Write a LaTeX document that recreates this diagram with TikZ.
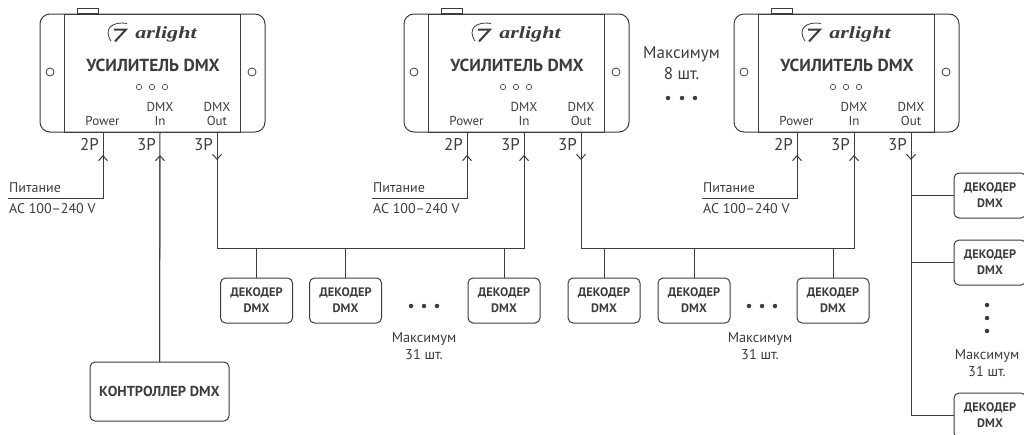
\documentclass[tikz,border=0pt]{standalone}
\usepackage{fontspec}
\setmainfont{PT Sans}
\newfontfamily\logofont[FakeStretch=1.3]{Liberation Serif}
\usetikzlibrary{arrows.meta}
\usetikzlibrary{positioning}

\definecolor{ink}{HTML}{3C3C3C}

\tikzset{
  wire/.style={draw=ink, line width=1pt},
  tipped/.style={wire, -{Straight Barb[length=5pt,width=9pt,line width=1pt]}},
  ampbody/.style={draw=ink, line width=1pt, rounded corners=10pt, minimum width=225pt, minimum height=118pt, inner sep=0pt},
  ampface/.style={draw=ink, line width=1pt, minimum width=176pt, minimum height=118pt, inner sep=0pt},
  amptab/.style={draw=ink, line width=1pt, minimum width=21pt, minimum height=4.5pt, inner sep=0pt},
  hole/.style={circle, draw=ink, line width=0.8pt, minimum size=8pt, inner sep=0pt},
  led/.style={circle, draw=ink, line width=0.6pt, minimum size=5.5pt, inner sep=0pt},
  dot/.style={circle, fill=ink, minimum size=4.5pt, inner sep=0pt},
  port/.style={text=ink, font=\fontsize{13}{14}\selectfont, align=center, inner sep=0pt},
  pins/.style={text=ink, font=\fontsize{17}{17}\selectfont, inner sep=0pt},
  supply/.style={text=ink, font=\fontsize{14}{14}\selectfont, anchor=west, inner sep=0pt},
  note/.style={text=ink, font=\fontsize{14.3}{17}\selectfont, align=center, inner sep=0pt},
  bignote/.style={text=ink, font=\fontsize{17}{21}\selectfont, align=center, inner sep=0pt},
  decoder/.style={draw=ink, line width=1pt, rounded corners=5pt, minimum width=72pt, minimum height=45pt, inner sep=0pt, text=ink, align=center, font=\fontsize{12.3}{16}\selectfont\bfseries},
  controller/.style={decoder, minimum width=139pt, minimum height=59pt, font=\fontsize{14.4}{16}\selectfont\bfseries},
}

\begin{document}
\begin{tikzpicture}[x=1pt, y=-1pt]
  \useasboundingbox (0,0) rectangle (1024,434);

  % amplifiers
  \foreach \n/\x in {1/0, 2/364, 3/694} {
    \node[ampbody] (amp\n) at (152.5+\x,73) {};
    \node[ampface] (face\n) at (152+\x,73) {};
    \node[amptab, above=0pt of face\n.north, xshift=-64.5pt] (tab\n) {};
    \node[hole] (holeL\n) at (50+\x,72) {};
    \node[hole] (holeR\n) at (252+\x,72) {};
    \node[text=ink, font=\logofont\fontsize{17}{17}\selectfont\bfseries\itshape] (logo\n) at (166+\x,34) {arlight};
    \draw[ink, line width=0.8pt] (111+\x,41) .. controls (103+\x,29) and (112+\x,21) .. (127+\x,23.5);
    \draw[ink, line width=2pt] (114+\x,29.5) -- (126+\x,29.5) -- (115+\x,41.5);
    \node[text=ink, font=\fontsize{17.4}{18}\selectfont\bfseries] (title\n) at (153+\x,65.5) {УСИЛИТЕЛЬ DMX};
    \node[led] (ledA\n) at (139+\x,87) {};
    \node[led] (ledB\n) at (152+\x,87) {};
    \node[led] (ledC\n) at (165+\x,87) {};
    \node[port] (power\n) at (102.5+\x,121) {Power};
    \node[port] (in\n) at (160+\x,114) {DMX\\In};
    \node[port] (out\n) at (217+\x,114) {DMX\\Out};
    \node[pins, anchor=east] (pa\n) at (99+\x,144.5) {2P};
    \node[pins, anchor=east] (pb\n) at (156+\x,144.5) {3P};
    \node[pins, anchor=east] (pc\n) at (213+\x,144.5) {3P};
    \coordinate (pwr\n) at (103+\x,132);
    \coordinate (dmxin\n) at (160+\x,132);
    \coordinate (dmxout\n) at (217+\x,132);
  }

  % mains feeds
  \foreach \n/\x in {1/0, 2/364, 3/694} {
    \node[supply] (mains\n) at (9+\x,188) {Питание};
    \node[supply] (volt\n) at (9+\x,208.5) {AC 100--240 V};
    \coordinate (feed\n) at (8+\x,198);
    \coordinate (tipP\n) at (103+\x,155);
    \draw[wire] (feed\n) -| (pwr\n);
    \draw[tipped] (feed\n -| pwr\n) -- (tipP\n);
  }

  % controller
  \node[controller] (ctrl) at (159.5,391.5) {КОНТРОЛЛЕР DMX};
  \coordinate (tipC) at (160,155);
  \draw[wire] (ctrl.north) -- (dmxin1);
  \draw[tipped] (ctrl.north) -- (tipC);

  % decoders below
  \node[decoder] (dec1) at (256.5,300.5) {ДЕКОДЕР\\DMX};
  \node[decoder, right=16pt of dec1] (dec2) {ДЕКОДЕР\\DMX};
  \node[decoder] (dec3) at (504,300.5) {ДЕКОДЕР\\DMX};
  \node[decoder] (dec4) at (604,300.5) {ДЕКОДЕР\\DMX};
  \node[decoder, right=17pt of dec4] (dec5) {ДЕКОДЕР\\DMX};
  \node[decoder] (dec6) at (833,300.5) {ДЕКОДЕР\\DMX};

  % decoders on the right
  \node[decoder] (dec7) at (990,195.5) {ДЕКОДЕР\\DMX};
  \node[decoder] (dec8) at (990,262.5) {ДЕКОДЕР\\DMX};
  \node[decoder] (dec9) at (990,415.5) {ДЕКОДЕР\\DMX};

  % buses
  \coordinate (busA) at (217,248);
  \coordinate (busB) at (581,248);
  \coordinate (tipA) at (217,160);
  \coordinate (tipB) at (581,160);
  \coordinate (tipC2) at (911,160);
  \coordinate (tipIA) at (524,155);
  \coordinate (tipIB) at (854,155);
  \draw[wire] (dmxout1) -- (busA) -- (busA -| dmxin2) -- (dmxin2);
  \draw[wire] (dmxout2) -- (busB) -- (busB -| dmxin3) -- (dmxin3);
  \draw[tipped] (dmxout1) -- (tipA);
  \draw[tipped] (dmxout2) -- (tipB);
  \draw[tipped] (busA -| dmxin2) -- (tipIA);
  \draw[tipped] (busB -| dmxin3) -- (tipIB);
  \draw[wire] (dec1.north) -- (dec1.north |- busA);
  \draw[wire] (dec2.north) -- (dec2.north |- busA);
  \draw[wire] (dec3.north) -- (dec3.north |- busA);
  \draw[wire] (dec4.north) -- (dec4.north |- busB);
  \draw[wire] (dec5.north) -- (dec5.north |- busB);
  \draw[wire] (dec6.north) -- (dec6.north |- busB);
  \draw[wire] (dmxout3) |- (dec9.west);
  \draw[tipped] (dmxout3) -- (tipC2);
  \draw[wire] (dec7.west) -- (dec7.west -| dmxout3);
  \draw[wire] (dec8.west) -- (dec8.west -| dmxout3);

  % dots and notes
  \foreach \x in {411,424,437,749,762,775} {
    \node[dot] (d\x) at (\x,306) {};
  }
  \node[note] (maxA) at (424,346.5) {Максимум\\31 шт.};
  \node[note] (maxB) at (760,346.5) {Максимум\\31 шт.};
  \node[bignote] (maxC) at (681.5,63.5) {Максимум\\8 шт.};
  \foreach \x in {668,682,695} {
    \node[dot] (e\x) at (\x,98) {};
  }
  \foreach \y in {305,318,331} {
    \node[dot] (f\y) at (987,\y) {};
  }
  \node[note] (maxD) at (987,363) {Максимум\\31 шт.};
\end{tikzpicture}
\end{document}
